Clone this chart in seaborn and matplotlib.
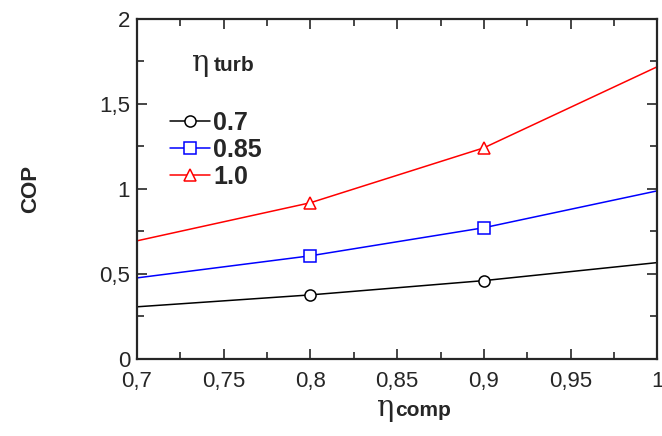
import matplotlib
matplotlib.use("Agg")
import matplotlib.pyplot as plt
import matplotlib.ticker as mticker
import seaborn as sns
import pandas as pd

eta_comp = [0.7, 0.8, 0.9, 1.0]
cop_07 = [0.306, 0.376, 0.460, 0.566]
cop_085 = [0.476, 0.606, 0.771, 0.988]
cop_10 = [0.694, 0.918, 1.241, 1.718]
turb_labels = ["0.7", "0.85", "1.0"]

colors = {"0.7": "black", "0.85": "#0000ff", "1.0": "#ff0000"}
markers = {"0.7": "o", "0.85": "s", "1.0": "^"}

df = pd.DataFrame({
    "eta_comp": eta_comp * 3,
    "cop": cop_07 + cop_085 + cop_10,
    "turb": [lab for lab in turb_labels for _ in eta_comp],
})

sns.set_style("ticks")
plt.rcParams["font.family"] = ["Liberation Sans", "DejaVu Sans"]

fig, ax = plt.subplots(figsize=(6.62, 4.36), dpi=100)
fig.subplots_adjust(left=0.207, right=0.993, top=0.957, bottom=0.177)

for lab in turb_labels:
    sub = df[df["turb"] == lab]
    sns.lineplot(data=sub, x="eta_comp", y="cop", color=colors[lab],
                 marker=markers[lab], markevery=[1, 2], markersize=8,
                 markerfacecolor="white", markeredgecolor=colors[lab],
                 markeredgewidth=1.1, linewidth=1.1, label=lab, ax=ax,
                 clip_on=False)

ax.set_xlim(0.7, 1.0)
ax.set_ylim(0, 2)
ax.xaxis.set_major_locator(mticker.MultipleLocator(0.05))
ax.xaxis.set_minor_locator(mticker.MultipleLocator(0.025))
ax.yaxis.set_major_locator(mticker.MultipleLocator(0.5))
ax.yaxis.set_minor_locator(mticker.MultipleLocator(0.25))
fmt = mticker.FuncFormatter(lambda v, p: f"{v:g}".replace(".", ","))
ax.xaxis.set_major_formatter(fmt)
ax.yaxis.set_major_formatter(fmt)
ax.tick_params(which="both", direction="in", top=True, right=True,
               labelsize=16, width=1.2)
ax.tick_params(axis="x", pad=9)
ax.tick_params(axis="y", pad=5)
ax.tick_params(which="major", length=7)
ax.tick_params(which="minor", length=5)
for s in ax.spines.values():
    s.set_linewidth(1.6)

ax.set_xlabel("")
ax.set_ylabel("COP", fontsize=16, fontweight="bold", labelpad=42)

# x axis label: eta with "comp"
fig.text(0.595, 0.045, "η", fontsize=21, ha="right", va="baseline",
         family="DejaVu Serif")
fig.text(0.597, 0.045, "comp", fontsize=15, fontweight="bold",
         ha="left", va="baseline")

# legend title
ax.text(0.105, 0.845, "η", fontsize=21, transform=ax.transAxes,
        va="baseline", family="DejaVu Serif")
ax.text(0.148, 0.845, "turb", fontsize=15, fontweight="bold",
        transform=ax.transAxes, va="baseline")

ax.legend(loc="upper left", bbox_to_anchor=(0.045, 0.758), frameon=False,
          prop={"size": 18, "weight": "bold"}, handlelength=1.6,
          handletextpad=0.1, labelspacing=0.12, borderaxespad=0)

fig.savefig("out.png", dpi=100)
